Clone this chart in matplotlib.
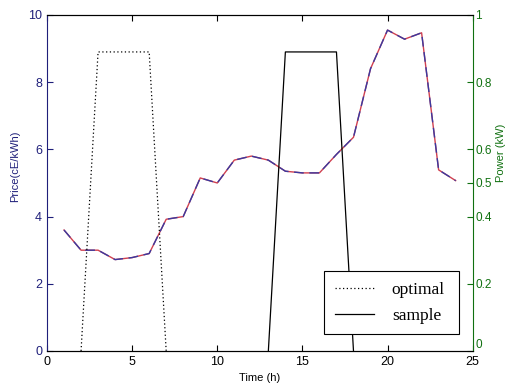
import numpy as np
import matplotlib
matplotlib.use('Agg')
import matplotlib.pyplot as plt

## data
hours = np.arange(1, 25)
price = [3.6, 3.0, 3.0, 2.72, 2.78, 2.9, 3.92, 4.0, 5.15, 5.0,
         5.68, 5.8, 5.68, 5.35, 5.3, 5.3, 5.85, 6.36, 8.4, 9.55,
         9.28, 9.47, 5.39, 5.07]

optimal_t = [2, 3, 6, 7]
optimal_p = [0, 0.89, 0.89, 0]
sample_t = [13, 14, 17, 18]
sample_p = [0, 0.89, 0.89, 0]

blue = '#1f1f7a'
green = '#107010'

plt.rcParams['font.family'] = ['Liberation Sans', 'DejaVu Sans']

fig = plt.figure(figsize=(5.07, 3.83), dpi=100)
ax = fig.add_axes([0.0927, 0.0836, 0.8396, 0.8773])

# price (left axis)
ax.plot(hours, price, color='#d04050', lw=1.0)
ax.plot(hours, price, color='#3a3aa0', lw=1.0, ls=(0, (7, 4)))
ax.set_xlim(0, 25)
ax.set_ylim(0, 10)
ax.set_xticks([0, 5, 10, 15, 20, 25])
ax.set_yticks([0, 2, 4, 6, 8, 10])
ax.tick_params(direction='in', length=4, labelsize=9, top=True)
ax.tick_params(axis='y', colors=blue, labelcolor=blue)
ax.set_xlabel('Time (h)', fontsize=8)
ax.xaxis.set_label_coords(0.5, -0.065)
ax.set_ylabel('Price(cE/kWh)', color=blue, fontsize=8)
ax.yaxis.set_label_coords(-0.062, 0.55)
ax.spines['left'].set_color(blue)
ax.spines['right'].set_visible(False)

# power (right axis)
ax2 = ax.twinx()
l1, = ax2.plot(optimal_t, optimal_p, color='black', lw=0.9, ls=(0, (1, 2)))
l2, = ax2.plot(sample_t, sample_p, color='black', lw=0.9)
ax2.set_ylim(0, 1)
ax2.set_yticks([0, 0.2, 0.4, 0.5, 0.6, 0.8, 1])
ax2.set_yticklabels(['0', '0.2', '0.4', '0.5', '0.6', '0.8', '1'])
ax2.tick_params(direction='in', length=4, pad=2, labelsize=8.5,
                colors=green, labelcolor=green)
ax2.get_yticklabels()[0].set_va('bottom')  # keep the 0 clear of the 25
ax2.set_ylabel('Power (kW)', color=green, fontsize=8)
ax2.yaxis.set_label_coords(1.054, 0.59)
ax2.spines['right'].set_color(green)
ax2.spines['left'].set_visible(False)

leg = ax2.legend([l1, l2], ['optimal', 'sample'], loc='lower left',
                 bbox_to_anchor=(0.651, 0.05, 0.318, 0.185), mode='expand',
                 prop={'family': 'Liberation Serif', 'size': 12.5},
                 fancybox=False, framealpha=1, edgecolor='black',
                 handlelength=2.3, handletextpad=1.0, borderpad=0.6,
                 labelspacing=0.55, borderaxespad=0)
leg.get_frame().set_linewidth(0.8)

plt.savefig('out.png', dpi=100)
